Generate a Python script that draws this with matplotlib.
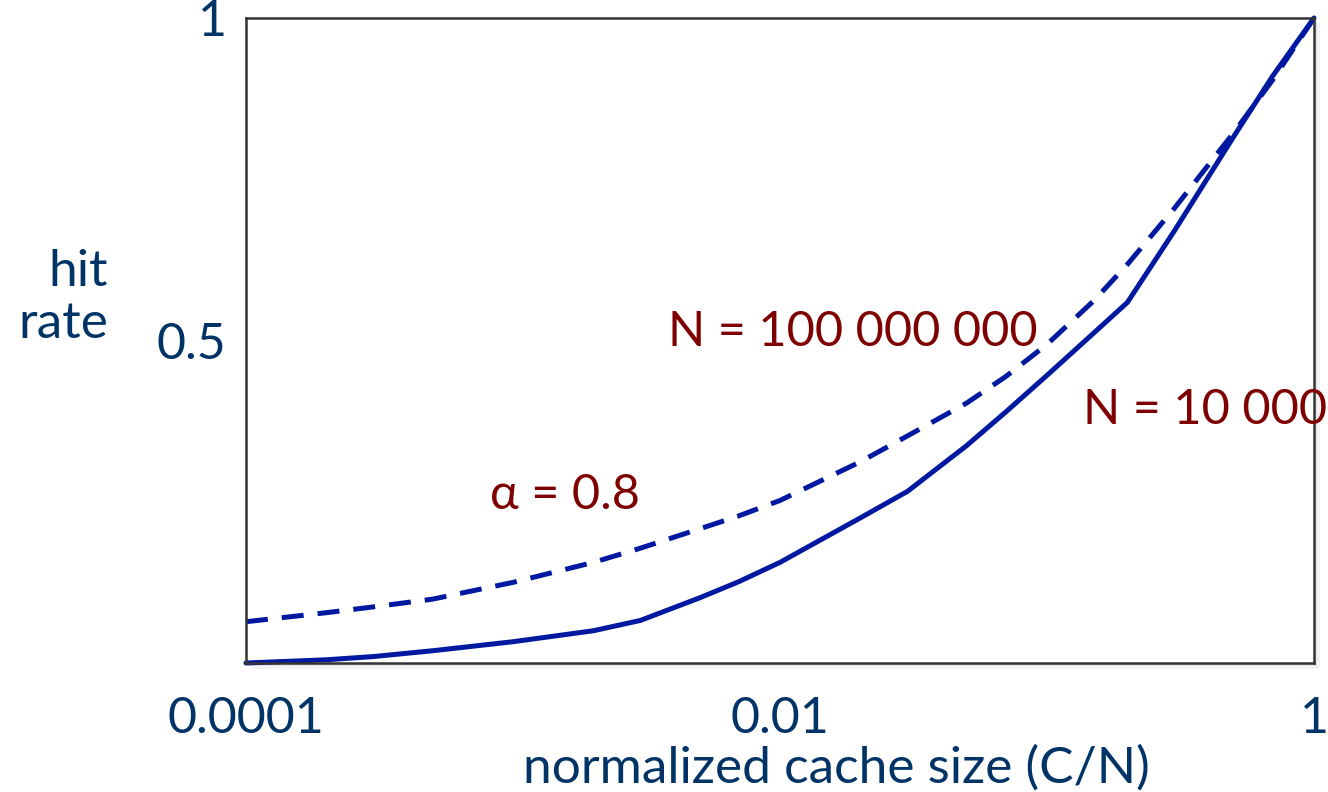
import matplotlib.pyplot as plt
from matplotlib.patches import Rectangle

# normalized cache size C/N and hit rates
cache_size = [1e-4, 2e-4, 3e-4, 5e-4, 1e-3, 2e-3, 3e-3, 5e-3, 7e-3, 1e-2,
              2e-2, 3e-2, 5e-2, 7e-2, 0.1, 0.15, 0.2, 0.3, 0.5, 0.7, 1.0]
hit_n_small = [0.0, 0.005, 0.010, 0.019, 0.033, 0.050, 0.066, 0.101, 0.126,
               0.156, 0.225, 0.266, 0.337, 0.389, 0.446, 0.512, 0.559,
               0.670, 0.816, 0.910, 1.0]
hit_n_large = [0.064, 0.078, 0.087, 0.099, 0.125, 0.156, 0.178, 0.208, 0.228,
               0.252, 0.312, 0.352, 0.403, 0.444, 0.494, 0.562, 0.618,
               0.705, 0.822, 0.904, 1.0]

x_ticks = [1e-4, 1e-2, 1.0]
x_tick_labels = ['0.0001', '0.01', '1']
y_ticks = [0.5, 1.0]
y_tick_labels = ['0.5', '1']

line_col = '#0019a0'
text_col = '#003366'
note_col = '#7f0000'

plt.rcParams['font.family'] = ['Lato', 'DejaVu Sans']

fig = plt.figure(figsize=(13.28, 7.92), dpi=100)
W, H = 1328, 792
ax_box = [246 / W, 1 - 663 / H, 1068 / W, 645 / H]

# faint drop shadow behind the frame
for off, col in [(6, '#f2f2f2'), (3, '#e4e4e4')]:
    fig.patches.append(Rectangle((ax_box[0] + off / W, ax_box[1] - off / H),
                                 ax_box[2], ax_box[3], transform=fig.transFigure,
                                 facecolor=col, edgecolor='none', zorder=-5))

ax = fig.add_axes(ax_box)
ax.set_zorder(1)

ax.plot(cache_size, hit_n_small, color=line_col, lw=3.6, clip_on=False,
        solid_capstyle='round', solid_joinstyle='round')
ax.plot(cache_size, hit_n_large, color=line_col, lw=3.6, dashes=(4.4, 2.8),
        clip_on=False, dash_joinstyle='round')

ax.set_xscale('log')
ax.set_xlim(1e-4, 1)
ax.set_ylim(0, 1)
ax.minorticks_off()
ax.set_xticks(x_ticks)
ax.set_xticklabels(x_tick_labels)
ax.set_yticks(y_ticks)
ax.set_yticklabels(y_tick_labels)
ax.tick_params(length=0, labelsize=36, labelcolor=text_col)
ax.tick_params(axis='x', pad=24)
ax.tick_params(axis='y', pad=14)

for s in ax.spines.values():
    s.set_color('#333333')
    s.set_linewidth(1.8)

fig.text(836 / W, 1 - 768 / H, 'normalized cache size (C/N)',
         ha='center', va='center', fontsize=37, color=text_col)
fig.text(108 / W, 1 - 298 / H, 'hit\nrate', ha='right', va='center',
         fontsize=37, color=text_col, multialignment='right', linespacing=1.15)

ax.text(0.395, 0.513, 'N = 100 000 000', transform=ax.transAxes,
        ha='left', va='center', fontsize=35, color=note_col)
ax.text(0.784, 0.392, 'N = 10 000', transform=ax.transAxes,
        ha='left', va='center', fontsize=35, color=note_col, clip_on=False)
ax.text(0.228, 0.260, 'α = 0.8', transform=ax.transAxes,
        ha='left', va='center', fontsize=35, color=note_col)

fig.savefig('out.png', dpi=100)
